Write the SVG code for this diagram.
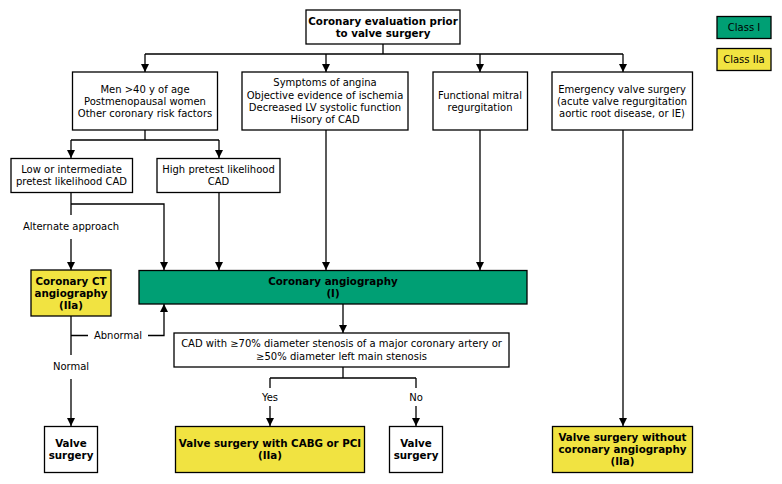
<svg xmlns="http://www.w3.org/2000/svg" width="782" height="484" viewBox="0 0 782 484">
<style>
text{font-family:"DejaVu Sans",Verdana,"Liberation Sans",sans-serif;font-size:10px;fill:#000;text-anchor:middle;dominant-baseline:central}
.b{font-weight:bold;font-size:10.3px}
.box{fill:#fff;stroke:#000;stroke-width:1.3}
.g{fill:#009F74;stroke:#000;stroke-width:1.3}
.y{fill:#F1E341;stroke:#000;stroke-width:1.3}
.c path{fill:none;stroke:#000;stroke-width:1.3}
.c path.a{marker-end:url(#ah)}
</style>
<defs>
<marker id="ah" markerUnits="userSpaceOnUse" markerWidth="10" markerHeight="10" refX="8" refY="4" orient="auto">
<path d="M0,0 L8,4 L0,8 Z" fill="#000"/>
</marker>
</defs>
<rect width="782" height="484" fill="#fff"/>
<g class="c" id="connectors">
<path d="M383 44 V54 M145 54 H623"/>
<path class="a" d="M145 54 V72"/>
<path class="a" d="M326 54 V72"/>
<path class="a" d="M480 54 V72"/>
<path class="a" d="M623 54 V72"/>
<path d="M145 130 V140 M71 140 H219"/>
<path class="a" d="M71 140 V158"/>
<path class="a" d="M219 140 V158"/>
<path d="M71 192 V215"/>
<path class="a" d="M71 204 H164 V270"/>
<path class="a" d="M71 239 V270"/>
<path class="a" d="M219 192 V270"/>
<path class="a" d="M326 130 V270"/>
<path class="a" d="M480 130 V270"/>
<path class="a" d="M623 130 V426"/>
<path d="M71 316 V355 M71 335.5 H88"/>
<path class="a" d="M148 335.5 H164 V304"/>
<path class="a" d="M71 379 V426"/>
<path class="a" d="M343 304 V333"/>
<path d="M343 367 V378 M270 378 H416 M270 378 V388 M416 378 V388"/>
<path class="a" d="M270 406 V426"/>
<path class="a" d="M416 406 V426"/>
</g>
<g id="labels">
<text x="71" y="226.5">Alternate approach</text>
<text x="118" y="335.5">Abnormal</text>
<text x="71" y="366.5">Normal</text>
<text x="270" y="397">Yes</text>
<text x="416" y="397">No</text>
</g>
<g id="n-start"><rect class="box" x="306" y="10" width="154" height="34"/>
<text class="b" x="383" y="21">Coronary evaluation prior</text><text class="b" x="383" y="33">to valve surgery</text></g>
<g id="legend-1"><rect class="g" x="717" y="16.5" width="54" height="22"/><text x="744" y="27">Class I</text></g>
<g id="legend-2a"><rect class="y" x="717" y="48.5" width="54" height="22"/><text x="744" y="59">Class IIa</text></g>
<g id="n-men"><rect class="box" x="72.5" y="72" width="145" height="58"/>
<text x="145" y="89">Men &gt;40 y of age</text><text x="145" y="101">Postmenopausal women</text><text x="145" y="113">Other coronary risk factors</text></g>
<g id="n-symptoms"><rect class="box" x="242" y="72" width="166" height="58"/>
<text x="325" y="82.5">Symptoms of angina</text><text x="325" y="95">Objective evidence of ischemia</text><text x="325" y="107">Decreased LV systolic function</text><text x="325" y="119">Hisory of CAD</text></g>
<g id="n-mitral"><rect class="box" x="433" y="72" width="94.5" height="58"/>
<text x="480" y="95">Functional mitral</text><text x="480" y="107">regurgitation</text></g>
<g id="n-emergency"><rect class="box" x="552" y="72" width="140.5" height="58"/>
<text x="622" y="89">Emergency valve surgery</text><text x="622" y="101">(acute valve regurgitation</text><text x="622" y="113">aortic root disease, or IE)</text></g>
<g id="n-low"><rect class="box" x="11" y="158.5" width="121.5" height="34"/>
<text x="71.5" y="169">Low or intermediate</text><text x="71.5" y="181">pretest likelihood CAD</text></g>
<g id="n-high"><rect class="box" x="157" y="158.5" width="123" height="34"/>
<text x="218.5" y="169">High pretest likelihood</text><text x="218.5" y="181">CAD</text></g>
<g id="n-ct"><rect class="y" x="31" y="270" width="80" height="46"/>
<text class="b" x="71" y="281">Coronary CT</text><text class="b" x="71" y="293">angiography</text><text class="b" x="71" y="305">(IIa)</text></g>
<g id="n-angio"><rect class="g" x="139" y="270.5" width="388" height="33.5"/>
<text class="b" x="333" y="281">Coronary angiography</text><text class="b" x="333" y="293">(I)</text></g>
<g id="n-cad"><rect class="box" x="174" y="333" width="335" height="34"/>
<text x="341.5" y="343.5">CAD with ≥70% diameter stenosis of a major coronary artery or</text><text x="341.5" y="356">≥50% diameter left main stenosis</text></g>
<g id="n-valve1"><rect class="box" x="44.5" y="426.5" width="53" height="46"/>
<text class="b" x="71" y="443">Valve</text><text class="b" x="71" y="455">surgery</text></g>
<g id="n-cabg"><rect class="y" x="175.5" y="426.5" width="189" height="46"/>
<text class="b" x="270" y="443">Valve surgery with CABG or PCI</text><text class="b" x="270" y="455">(IIa)</text></g>
<g id="n-valve2"><rect class="box" x="389.5" y="426.5" width="53" height="46"/>
<text class="b" x="416" y="443">Valve</text><text class="b" x="416" y="455">surgery</text></g>
<g id="n-without"><rect class="y" x="552.5" y="426.5" width="140" height="46"/>
<text class="b" x="622.5" y="437">Valve surgery without</text><text class="b" x="622.5" y="449">coronary angiography</text><text class="b" x="622.5" y="461">(IIa)</text></g>
</svg>
